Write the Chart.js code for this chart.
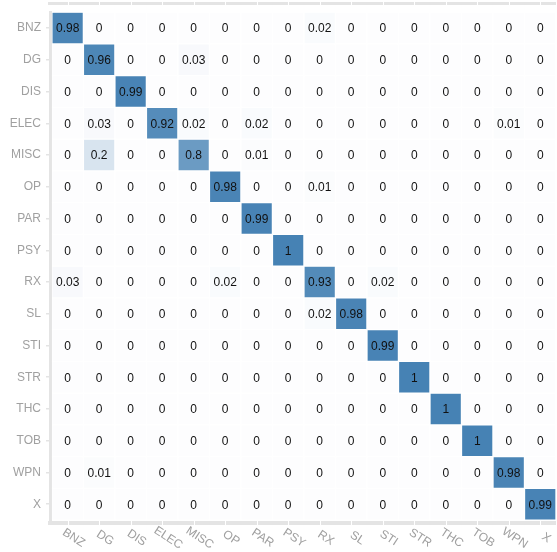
<!DOCTYPE html>
<html>
<head>
<meta charset="utf-8">
<script src="https://cdn.jsdelivr.net/npm/chart.js@4/dist/chart.umd.min.js"></script>
<style>
    html, body { margin: 0; padding: 0; background: #fff; }
    #wrap { width: 557px; height: 552px; }
</style>
</head>
<body>
<div id="wrap"><canvas id="cm"></canvas></div>
<script>
// class names, same order for rows (actual) and columns (predicted)
const classes = ['BNZ', 'DG', 'DIS', 'ELEC', 'MISC', 'OP', 'PAR', 'PSY', 'RX', 'SL', 'STI', 'STR', 'THC', 'TOB', 'WPN', 'X'];

// one row per actual class
const values = [
    [0.98, 0, 0, 0, 0, 0, 0, 0, 0.02, 0, 0, 0, 0, 0, 0, 0],
    [0, 0.96, 0, 0, 0.03, 0, 0, 0, 0, 0, 0, 0, 0, 0, 0, 0],
    [0, 0, 0.99, 0, 0, 0, 0, 0, 0, 0, 0, 0, 0, 0, 0, 0],
    [0, 0.03, 0, 0.92, 0.02, 0, 0.02, 0, 0, 0, 0, 0, 0, 0, 0.01, 0],
    [0, 0.2, 0, 0, 0.8, 0, 0.01, 0, 0, 0, 0, 0, 0, 0, 0, 0],
    [0, 0, 0, 0, 0, 0.98, 0, 0, 0.01, 0, 0, 0, 0, 0, 0, 0],
    [0, 0, 0, 0, 0, 0, 0.99, 0, 0, 0, 0, 0, 0, 0, 0, 0],
    [0, 0, 0, 0, 0, 0, 0, 1, 0, 0, 0, 0, 0, 0, 0, 0],
    [0.03, 0, 0, 0, 0, 0.02, 0, 0, 0.93, 0, 0.02, 0, 0, 0, 0, 0],
    [0, 0, 0, 0, 0, 0, 0, 0, 0.02, 0.98, 0, 0, 0, 0, 0, 0],
    [0, 0, 0, 0, 0, 0, 0, 0, 0, 0, 0.99, 0, 0, 0, 0, 0],
    [0, 0, 0, 0, 0, 0, 0, 0, 0, 0, 0, 1, 0, 0, 0, 0],
    [0, 0, 0, 0, 0, 0, 0, 0, 0, 0, 0, 0, 1, 0, 0, 0],
    [0, 0, 0, 0, 0, 0, 0, 0, 0, 0, 0, 0, 0, 1, 0, 0],
    [0, 0.01, 0, 0, 0, 0, 0, 0, 0, 0, 0, 0, 0, 0, 0.98, 0],
    [0, 0, 0, 0, 0, 0, 0, 0, 0, 0, 0, 0, 0, 0, 0, 0.99]
];

const FONT = 'Helvetica, "Liberation Sans", Arial, sans-serif';
const axisGrey = '#e4e4e4';

// white -> steelblue
function cellColor(v) {
    const lo = [253, 253, 254], hi = [70, 130, 180];
    const c = lo.map((l, i) => Math.round(l + (hi[i] - l) * v));
    return `rgb(${c[0]}, ${c[1]}, ${c[2]})`;
}

// one floating-bar dataset per row
const datasets = values.map((row, r) => ({
    data: row.map((v, j) => ({ x: j, y: [r - 0.5, r + 0.5] })),
    backgroundColor: row.map(v => cellColor(v)),
    borderColor: 'rgba(255, 255, 255, 0.35)',
    borderWidth: 1,
    borderSkipped: false,
    barPercentage: 1,
    categoryPercentage: 1,
    grouped: false
}));

const cellText = {
    id: 'cellText',
    afterDatasetsDraw(chart) {
        const ctx = chart.ctx;
        const xs = chart.scales.x, ys = chart.scales.y;
        ctx.save();
        ctx.font = '12px ' + FONT;
        ctx.fillStyle = '#111';
        ctx.textAlign = 'center';
        ctx.textBaseline = 'middle';
        values.forEach((row, r) => {
            row.forEach((v, j) => {
                ctx.fillText(String(v), xs.getPixelForValue(j), ys.getPixelForValue(r) + 1);
            });
        });
        ctx.restore();
    }
};

// grey bands above and below the grid, broken at column centres,
// plus rotated x labels (clockwise, like the original)
const frame = {
    id: 'frame',
    afterDraw(chart) {
        const ctx = chart.ctx;
        const xs = chart.scales.x;
        const area = chart.chartArea;
        ctx.save();
        ctx.fillStyle = axisGrey;
        ctx.fillRect(area.left - 2, 2, area.right - area.left + 2, 3);
        ctx.fillRect(area.left - 2, area.bottom - 1, area.right - area.left + 2, 4);
        ctx.fillStyle = '#fff';
        classes.forEach((c, j) => {
            const px = Math.round(xs.getPixelForValue(j));
            ctx.fillRect(px, 2, 1, 3);
            ctx.fillRect(px, area.bottom - 1, 1, 4);
        });

        ctx.font = '12px ' + FONT;
        ctx.fillStyle = '#a0a0a0';
        ctx.textAlign = 'center';
        ctx.textBaseline = 'middle';
        const y0 = area.bottom + 16;
        classes.forEach((c, j) => {
            ctx.save();
            ctx.translate(xs.getPixelForValue(j) + 6, y0);
            ctx.rotate(33 * Math.PI / 180);
            ctx.fillText(c, 0, 0);
            ctx.restore();
        });
        ctx.restore();
    }
};

new Chart(document.getElementById('cm'), {
    type: 'bar',
    data: { datasets: datasets },
    options: {
        responsive: true,
        maintainAspectRatio: false,
        animation: false,
        layout: { padding: { top: 8, right: 1, left: 0, bottom: 0 } },
        plugins: {
            legend: { display: false },
            tooltip: { enabled: false }
        },
        scales: {
            x: {
                type: 'linear',
                offset: false,
                min: -0.56,
                max: 15.5,
                afterBuildTicks: scale => { scale.ticks = classes.map((c, i) => ({ value: i })); },
                afterFit: scale => { scale.height = 30; },
                ticks: { display: false },
                grid: { display: false, offset: false },
                border: { display: false }
            },
            y: {
                type: 'linear',
                reverse: true,
                min: -0.5,
                max: 15.56,
                afterBuildTicks: scale => { scale.ticks = classes.map((c, i) => ({ value: i })); },
                afterFit: scale => { scale.width = 50; },
                ticks: {
                    color: '#a0a0a0',
                    font: { size: 12, family: FONT },
                    padding: 5,
                    autoSkip: false,
                    callback: v => classes[v]
                },
                grid: { drawOnChartArea: false, color: axisGrey, tickLength: 4, lineWidth: 1.5 },
                border: { color: axisGrey, width: 3 }
            }
        }
    },
    plugins: [cellText, frame]
});
</script>
</body>
</html>
